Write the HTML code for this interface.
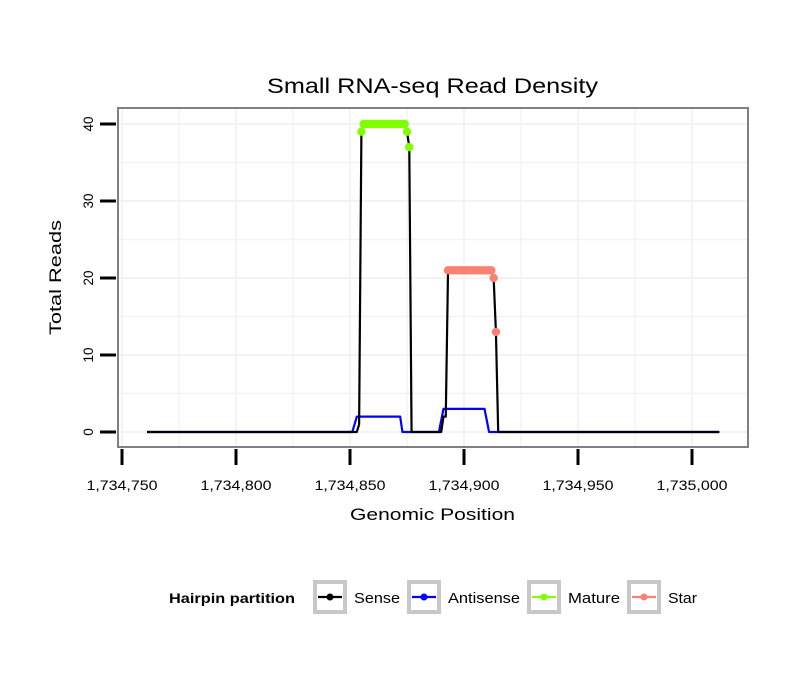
<!DOCTYPE html>
<html><head><meta charset="utf-8"><style>
body{margin:0;background:#fff;}
svg{display:block;font-family:"Liberation Sans",sans-serif;}
</style></head><body>
<svg id="chart" width="810" height="690">
<text x="267" y="93" font-size="21" textLength="331" lengthAdjust="spacingAndGlyphs">Small RNA-seq Read Density</text>
<g id="grid"></g>
<rect x="118" y="108" width="630" height="339" fill="none" stroke="#808080" stroke-width="2"/>
<g id="series"></g>
<g id="axes"></g>
<text x="350" y="520" font-size="17" textLength="165" lengthAdjust="spacingAndGlyphs">Genomic Position</text>
<text transform="translate(61,335) rotate(-90)" font-size="17" textLength="115" lengthAdjust="spacingAndGlyphs">Total Reads</text>
<g id="legend">
<text x="169" y="603" font-size="14" font-weight="bold" textLength="126" lengthAdjust="spacingAndGlyphs">Hairpin partition</text>
</g>
</svg>
<script>
const xTicks=[1734750,1734800,1734850,1734900,1734950,1735000];
const xTickLabels=["1,734,750","1,734,800","1,734,850","1,734,900","1,734,950","1,735,000"];
const yTicks=[0,10,20,30,40];
const senseX=[1734761,1734853,1734854,1734855,1734856,1734874,1734875,1734876,1734877,1734890,1734891,1734892,1734893,1734912,1734913,1734914,1734915,1735012];
const senseY=[0,0,1,39,40,40,39,37,0,0,2,2,21,21,20,13,0,0];
const antiX=[1734761,1734851,1734853,1734872,1734873,1734889,1734891,1734909,1734910,1734911,1735012];
const antiY=[0,0,2,2,0,0,3,3,1.5,0,0];
const matureX=[1734855,1734856,1734857,1734858,1734859,1734860,1734861,1734862,1734863,1734864,1734865,1734866,1734867,1734868,1734869,1734870,1734871,1734872,1734873,1734874,1734875,1734876];
const matureY=[39,40,40,40,40,40,40,40,40,40,40,40,40,40,40,40,40,40,40,40,39,37];
const starX=[1734893,1734894,1734895,1734896,1734897,1734898,1734899,1734900,1734901,1734902,1734903,1734904,1734905,1734906,1734907,1734908,1734909,1734910,1734911,1734912,1734913,1734914];
const starY=[21,21,21,21,21,21,21,21,21,21,21,21,21,21,21,21,21,21,21,21,20,13];
const legendLabels=["Sense","Antisense","Mature","Star"];
const legendColors=["#000000","#0000ff","#7fff00","#fa8072"];

const NS="http://www.w3.org/2000/svg";
const sx=v=>122+(v-1734750)*2.28;
const sy=v=>432-v*7.7;
function mk(tag,attrs,parent){const e=document.createElementNS(NS,tag);for(const k in attrs)e.setAttribute(k,attrs[k]);parent.appendChild(e);return e;}
const grid=document.getElementById('grid'),axes=document.getElementById('axes'),series=document.getElementById('series'),legend=document.getElementById('legend');
for(let v=1734725;v<=1735025;v+=25){const x=sx(v);if(x<119||x>747)continue;
 const g=mk('line',{x1:x,x2:x,y1:109,y2:446,stroke:'#f3f3f3','stroke-width':v%50===0?2:1.5},grid);
 }
for(let v=0;v<=45;v+=5){const y=sy(v);if(y<109||y>446)continue;
 const g=mk('line',{x1:119,x2:747,y1:y,y2:y,stroke:'#f3f3f3','stroke-width':v%10===0?2:1.5},grid);
 }
xTicks.forEach((v,i)=>{const x=sx(v);
 const t=mk('line',{x1:x,x2:x,y1:449,y2:465,stroke:'#000','stroke-width':3},axes);
 
 const l=mk('text',{x:x-35.5,y:490,'font-size':13.5,textLength:71,lengthAdjust:'spacingAndGlyphs'},axes);l.textContent=xTickLabels[i];
 });
yTicks.forEach(v=>{const y=sy(v);
 const t=mk('line',{x1:100,x2:116,y1:y,y2:y,stroke:'#000','stroke-width':3},axes);
 
 const l=mk('text',{transform:`translate(93,${y}) rotate(-90)`,'font-size':13.5,'text-anchor':'middle'},axes);l.textContent=v;
 });
function line(xs,ys,color,name){const p=mk('polyline',{points:xs.map((x,i)=>sx(x)+','+sy(ys[i])).join(' '),fill:'none',stroke:color,'stroke-width':2.2,'stroke-linejoin':'round'},series);
 }
function dots(xs,ys,color,name){xs.forEach((x,i)=>{const c=mk('circle',{cx:sx(x),cy:sy(ys[i]),r:4.2,fill:color},series);
 });}
line(antiX,antiY,'#0000ff','antisense-line');
line(senseX,senseY,'#000000','sense-line');
dots(matureX,matureY,'#7fff00','mature-point');
dots(starX,starY,'#fa8072','star-point');
const lx=[313,407,527,627];
const lw=[46,72,52,29];
legendLabels.forEach((lab,i)=>{const x=lx[i];
 const b=mk('rect',{x:x+2,y:582,width:30,height:30,fill:'#fff',stroke:'#c8c8c8','stroke-width':4},legend);
 
 mk('line',{x1:x+5,x2:x+29,y1:597,y2:597,stroke:legendColors[i],'stroke-width':2.2},legend);
 mk('circle',{cx:x+17,cy:597,r:3.5,fill:legendColors[i]},legend);
 const t=mk('text',{x:x+41,y:603,'font-size':15,textLength:lw[i],lengthAdjust:'spacingAndGlyphs'},legend);t.textContent=lab;
 });
</script>
</body></html>
